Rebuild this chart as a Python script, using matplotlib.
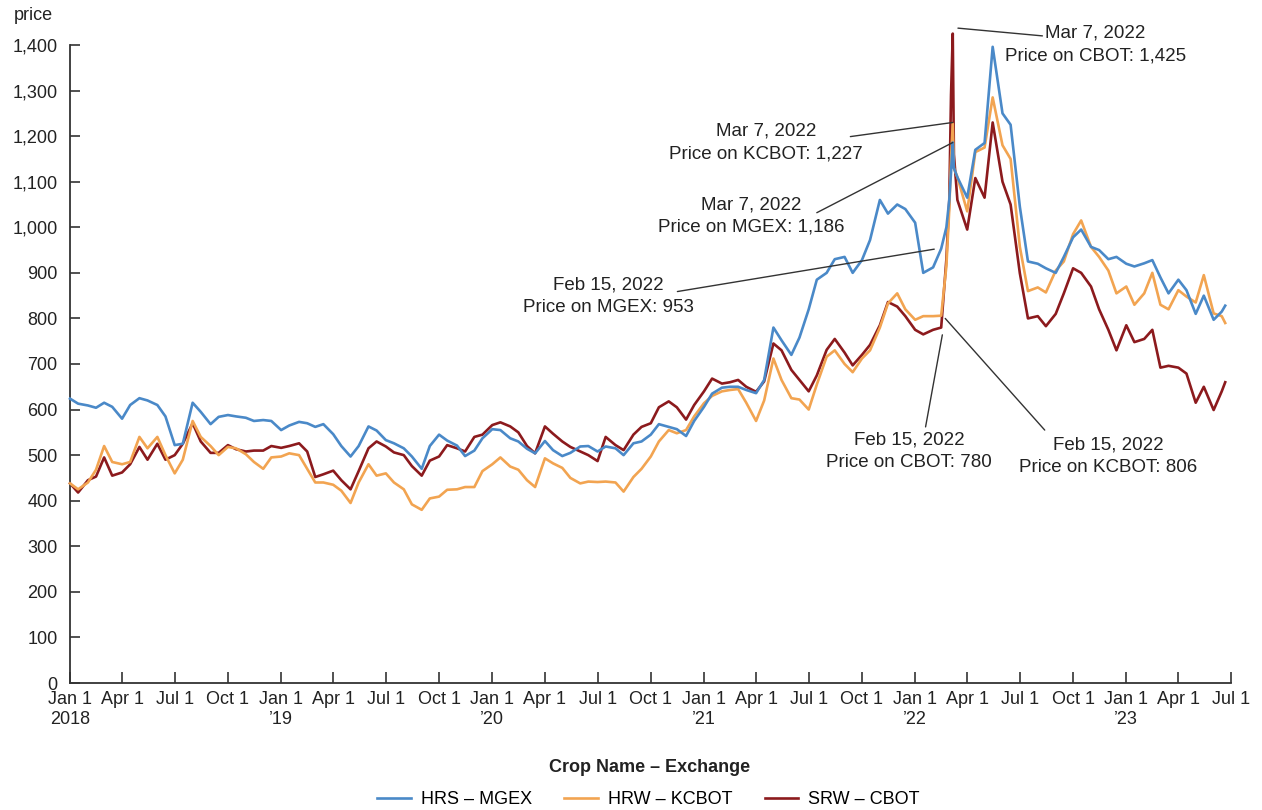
import numpy as np
import pandas as pd
import matplotlib
matplotlib.use('Agg')
import matplotlib.pyplot as plt

plt.rcParams['font.family'] = ['Liberation Sans', 'DejaVu Sans']

# dates: semi-monthly, plus a few extra days around the March 2022 spike
dates = (list(pd.date_range('2018-01-01', '2022-02-15', freq='SMS'))
         + list(pd.to_datetime(['2022-02-24', '2022-03-01', '2022-03-04', '2022-03-07', '2022-03-09']))
         + list(pd.date_range('2022-03-15', '2023-06-15', freq='SMS'))
         + [pd.Timestamp('2023-06-21')])

# HRS - MGEX
hrs = [624, 613, 609, 604, 615, 606, 580, 610, 625, 620,
       610, 585, 522, 525, 615, 595, 568, 584, 588, 585,
       582, 575, 577, 575, 555, 565, 573, 570, 562, 568,
       546, 520, 497, 520, 563, 554, 533, 526, 515, 497,
       470, 520, 545, 532, 521, 498, 510, 537, 557, 555,
       537, 530, 514, 504, 531, 511, 498, 505, 519, 520,
       508, 519, 515, 500, 526, 530, 545, 568, 562, 557,
       542, 575, 606, 635, 648, 650, 650, 643, 636, 665,
       780, 752, 720, 758, 820, 885, 900, 930, 935, 900,
       928, 972, 1060, 1030, 1050, 1040, 1010, 900, 912, 953,
       1000, 1060, 1120, 1186, 1130,
       1110, 1065, 1170, 1185, 1396, 1250, 1225, 1045, 925,
       920, 910, 900, 935, 978, 995, 957, 950, 930, 935,
       920, 914, 921, 928, 890, 855, 885, 862, 810, 850,
       797, 815,
       828]

# HRW - KCBOT
hrw = [438, 425, 440, 468, 520, 485, 480, 485, 540, 515,
       540, 500, 460, 490, 575, 540, 520, 500, 518, 515,
       502, 485, 470, 495, 497, 504, 500, 470, 440, 440,
       435, 422, 395, 440, 480, 455, 460, 440, 425, 392,
       380, 405, 409, 424, 425, 430, 430, 465, 480, 495,
       475, 468, 445, 430, 493, 482, 472, 450, 438, 442,
       441, 442, 440, 420, 452, 470, 497, 530, 555, 548,
       555, 585, 614, 630, 640, 643, 645, 615, 575, 620,
       712, 665, 625, 622, 600, 655, 716, 730, 700, 682,
       712, 730, 780, 833, 855, 820, 797, 805, 805, 806,
       915, 1040, 1150, 1227, 1130,
       1110, 1035, 1165, 1175, 1285, 1180, 1150, 957, 860,
       868, 857, 905, 925, 985, 1015, 957, 935, 905, 855,
       870, 830, 855, 900, 830, 820, 862, 848, 835, 895,
       811, 805,
       790]

# SRW - CBOT
srw = [438, 418, 445, 453, 495, 455, 462, 480, 518, 490,
       525, 490, 500, 525, 570, 530, 505, 505, 522, 513,
       508, 510, 510, 520, 516, 520, 526, 508, 452, 458,
       466, 445, 425, 465, 515, 530, 519, 506, 500, 476,
       455, 488, 497, 522, 515, 508, 540, 545, 566, 572,
       563, 550, 520, 504, 563, 547, 530, 518, 508, 500,
       487, 540, 522, 511, 545, 562, 570, 605, 618, 605,
       578, 610, 640, 668, 657, 660, 665, 650, 639, 662,
       745, 730, 687, 665, 640, 675, 731, 755, 725, 697,
       720, 742, 785, 836, 826, 805, 775, 765, 775, 780,
       930, 1060, 1290, 1425, 1160,
       1060, 995, 1108, 1065, 1230, 1100, 1050, 899, 800,
       805, 783, 810, 855, 910, 900, 870, 820, 775, 730,
       785, 748, 755, 775, 692, 696, 692, 679, 615, 650,
       599, 640,
       660]

series_names = ['HRS – MGEX', 'HRW – KCBOT', 'SRW – CBOT']
colors = ['#4A89C8', '#F2A451', '#8C1A1D']

tick_dates = pd.date_range('2018-01-01', '2023-07-01', freq='QS')
tick_labels = ['Jan 1\n2018', 'Apr 1', 'Jul 1', 'Oct 1',
               'Jan 1\n’19', 'Apr 1', 'Jul 1', 'Oct 1',
               'Jan 1\n’20', 'Apr 1', 'Jul 1', 'Oct 1',
               'Jan 1\n’21', 'Apr 1', 'Jul 1', 'Oct 1',
               'Jan 1\n’22', 'Apr 1', 'Jul 1', 'Oct 1',
               'Jan 1\n’23', 'Apr 1', 'Jul 1']
y_ticks = list(range(0, 1500, 100))

fig = plt.figure(figsize=(12.62, 8.10), dpi=100)
ax = fig.add_axes([70/1262, 1-683/810, (1231-70)/1262, (683-45)/810])

fs = 13
handles = []
for vals, name, c, z in zip([hrs, hrw, srw], series_names, colors, [4, 3, 2]):
    h, = ax.plot(dates, vals, color=c, lw=1.9, label=name, zorder=z, clip_on=False)
    handles.append(h)

ax.set_xlim(pd.Timestamp('2018-01-01'), pd.Timestamp('2023-07-01'))
ax.set_ylim(0, 1400)
ax.set_xticks(tick_dates)
ax.set_xticklabels(tick_labels)
ax.set_yticks(y_ticks)
ax.set_yticklabels([f'{v:,}' for v in y_ticks])

for s in ['top', 'right']:
    ax.spines[s].set_visible(False)
for s in ['left', 'bottom']:
    ax.spines[s].set_color('#333333')
    ax.spines[s].set_linewidth(1.3)
ax.tick_params(axis='x', direction='in', length=8, width=1.2, color='#333333',
               labelsize=fs, labelcolor='#222222', pad=6)
ax.tick_params(axis='y', direction='in', length=7, width=1.2, color='#333333',
               labelsize=fs, labelcolor='#222222', pad=9)

# annotations: text, text position, line start, line end
notes = [
    ('Mar 7, 2022\nPrice on CBOT: 1,425', ('2022-11-09', 1401), ('2022-03-16', 1437), ('2022-08-09', 1420)),
    ('Mar 7, 2022\nPrice on KCBOT: 1,227', ('2021-04-18', 1186), ('2021-09-11', 1199), ('2022-03-07', 1230)),
    ('Mar 7, 2022\nPrice on MGEX: 1,186', ('2021-03-24', 1024), ('2021-07-15', 1032), ('2022-03-07', 1186)),
    ('Feb 15, 2022\nPrice on MGEX: 953', ('2020-07-20', 848), ('2020-11-16', 859), ('2022-02-03', 952)),
    ('Feb 15, 2022\nPrice on CBOT: 780', ('2021-12-22', 509), ('2022-01-19', 562), ('2022-02-17', 764)),
    ('Feb 15, 2022\nPrice on KCBOT: 806', ('2022-12-01', 498), ('2022-02-22', 800), ('2022-08-13', 555)),
]
for txt, tpos, p0, p1 in notes:
    ax.text(pd.Timestamp(tpos[0]), tpos[1], txt, ha='center', va='center',
            fontsize=13.5, color='#222222', linespacing=1.4, clip_on=False, zorder=6)
    ax.annotate('', xy=(pd.Timestamp(p1[0]), p1[1]), xytext=(pd.Timestamp(p0[0]), p0[1]),
                arrowprops=dict(arrowstyle='-', color='#333333', lw=1, shrinkA=0, shrinkB=0),
                annotation_clip=False, zorder=6)

fig.text(14/1262, 1-16/810, 'price', ha='left', va='center', fontsize=fs, color='#222222')
fig.text(650/1262, 1-768/810, 'Crop Name – Exchange', ha='center', va='center',
         fontsize=fs, fontweight='bold', color='#222222')
fig.legend(handles=handles, loc='center', bbox_to_anchor=(0.5137, 1-800/810), ncol=3,
           frameon=False, fontsize=fs, handlelength=1.85, handletextpad=0.55,
           columnspacing=1.8, borderpad=0)

fig.savefig('out.png', dpi=100)
